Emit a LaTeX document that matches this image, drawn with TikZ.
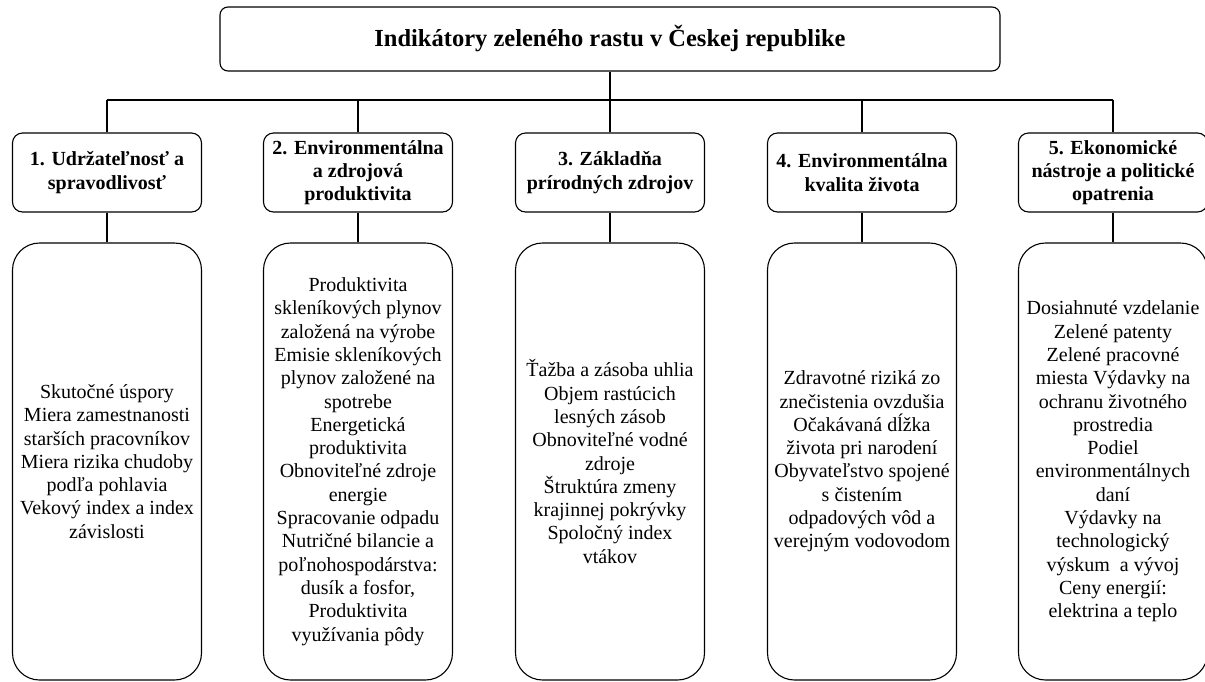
\documentclass[tikz,border=0pt]{standalone}
\usepackage{fontspec}
\setmainfont{Liberation Serif}
\newfontfamily\tnrfont{Liberation Serif}
\begin{document}
\begin{tikzpicture}[x=1pt,y=-1pt,
  line width=1.1pt,
  titlebox/.style={draw, fill=white, rounded corners=8pt, minimum width=780pt, minimum height=64pt, inner sep=0pt, align=center, font=\tnrfont\fontsize{24.5}{28}\selectfont\bfseries},
  headbox/.style={draw, fill=white, rounded corners=10pt, minimum width=189pt, minimum height=79pt, inner sep=0pt, align=center, font=\tnrfont\fontsize{20}{23.3}\selectfont\bfseries},
  bodybox/.style={draw, fill=white, rounded corners=27pt, minimum width=189pt, minimum height=437pt, inner sep=0pt, align=center, font=\tnrfont\fontsize{20}{23.3}\selectfont},
]
\useasboundingbox (0,0) rectangle (1205,681);
\fill[white] (0,0) rectangle (1205,681);

\node[titlebox] (top) at (610,39) {Indikátory zeleného rastu v Českej republike};

\node[headbox] (h1) at (107,172.5) {1. Udržateľnosť a\\spravodlivosť};
\node[headbox] (h2) at (358,172.5) {2. Environmentálna\\a zdrojová\\produktivita};
\node[headbox] (h3) at (610,172.5) {3. Základňa\\prírodných zdrojov};
\node[headbox] (h4) at (862,172.5) {4. Environmentálna\\kvalita života};
\node[headbox] (h5) at (1113,172.5) {5. Ekonomické\\nástroje a politické\\opatrenia};

\node[bodybox] (b1) at (107,461.5) {Skutočné úspory\\Miera zamestnanosti\\starších pracovníkov\\Miera rizika chudoby\\podľa pohlavia\\Vekový index a index\\závislosti};
\node[bodybox] (b2) at (358,461.5) {Produktivita\\skleníkových plynov\\založená na výrobe\\Emisie skleníkových\\plynov založené na\\spotrebe\\Energetická\\produktivita\\Obnoviteľné zdroje\\energie\\Spracovanie odpadu\\Nutričné bilancie a\\poľnohospodárstva:\\dusík a fosfor,\\Produktivita\\využívania pôdy};
\node[bodybox] (b3) at (610,461.5) {Ťažba a zásoba uhlia\\Objem rastúcich\\lesných zásob\\Obnoviteľné vodné\\zdroje\\Štruktúra zmeny\\krajinnej pokrývky\\Spoločný index\\vtákov};
\node[bodybox] (b4) at (862,461.5) {Zdravotné riziká zo\\znečistenia ovzdušia\\Očakávaná dĺžka\\života pri narodení\\Obyvateľstvo spojené\\s čistením\\odpadových vôd a\\verejným vodovodom};
\node[bodybox] (b5) at (1113,461.5) {Dosiahnuté vzdelanie\\Zelené patenty\\Zelené pracovné\\miesta Výdavky na\\ochranu životného\\prostredia\\Podiel\\environmentálnych\\daní\\Výdavky na\\technologický\\výskum\ \ a vývoj\\Ceny energií:\\elektrina a teplo};

\coordinate (busL) at (107,100);
\coordinate (busR) at (1113,100);
\draw (busL) -- (busR);
\draw (top.south) -- (top.south |- busL);
\foreach \i in {1,...,5}{
  \draw (h\i.north) -- (h\i.north |- busL);
  \draw (h\i.south) -- (b\i.north);
}
\end{tikzpicture}
\end{document}
